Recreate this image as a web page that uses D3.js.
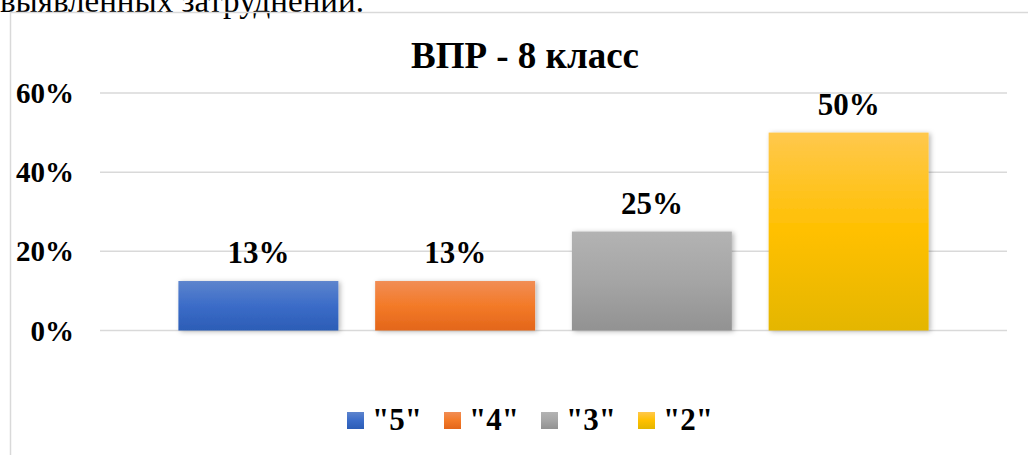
<!DOCTYPE html>
<html>
<head>
<meta charset="utf-8">
<script src="https://cdn.jsdelivr.net/npm/d3@7"></script>
<style>
  body { margin: 0; background: #fff; }
  svg { display: block; }
</style>
</head>
<body>
<svg></svg>
<script>
let categories = ['"5"', '"4"', '"3"', '"2"'];
let values = [0.125, 0.125, 0.25, 0.5];
let labels = ["13%", "13%", "25%", "50%"];
let ticks = [0, 0.2, 0.4, 0.6];
let gradients = [
  ["#5d84cd", "#3b6cc8", "#2c5db6"],
  ["#f18d55", "#f37a28", "#e3661a"],
  ["#b3b3b3", "#a5a5a5", "#929292"],
  ["#ffc84d", "#ffc000", "#e4b600"],
];

let width = 1028;
let height = 455;
let font = "'Liberation Serif', 'Times New Roman', serif";

let svg = d3.select("svg").attr("width", width).attr("height", height);
let defs = svg.append("defs");

gradients.forEach((g, i) => {
  let lg = defs.append("linearGradient")
    .attr("id", `grad${i}`)
    .attr("x1", 0).attr("y1", 0).attr("x2", 0).attr("y2", 1);
  lg.append("stop").attr("offset", "0%").attr("stop-color", g[0]);
  lg.append("stop").attr("offset", "50%").attr("stop-color", g[1]);
  lg.append("stop").attr("offset", "100%").attr("stop-color", g[2]);
});

let shadow = defs.append("filter").attr("id", "shadow")
  .attr("x", "-20%").attr("y", "-20%").attr("width", "140%").attr("height", "140%");
shadow.append("feDropShadow")
  .attr("dx", 2).attr("dy", 1).attr("stdDeviation", 2.5)
  .attr("flood-color", "#000").attr("flood-opacity", 0.28);

// page text above the chart (cut off, as on the scanned page)
svg.append("text")
  .attr("x", 0).attr("y", 12)
  .style("font-family", font).style("font-size", "33px")
  .text("выявленных затруднений.");

// chart frame
svg.append("path")
  .attr("d", `M10.5,${height} V12.5 H${width + 5}`)
  .style("fill", "none").style("stroke", "#d9d9d9").style("stroke-width", 1.5);

let y = d3.scaleLinear().domain([0, 0.6]).range([330.5, 93]);
let x = d3.scaleBand().domain(categories).range([160, 947])
  .paddingInner(0.187).paddingOuter(0.0935);

// gridlines
svg.append("g")
  .selectAll("line")
  .data(ticks)
  .join("line")
  .attr("x1", 100).attr("x2", 1007)
  .attr("y1", (d) => y(d)).attr("y2", (d) => y(d))
  .style("stroke", "#d9d9d9").style("stroke-width", 1.5);

// y tick labels
svg.append("g")
  .selectAll("text")
  .data(ticks)
  .join("text")
  .attr("x", 74).attr("y", (d) => y(d) + 10)
  .attr("text-anchor", "end")
  .style("font-family", font).style("font-size", "29px").style("font-weight", "bold")
  .text(d3.format(".0%"));

// title
svg.append("text")
  .attr("x", 525).attr("y", 68)
  .attr("text-anchor", "middle")
  .style("font-family", font).style("font-size", "37px").style("font-weight", "bold")
  .text("ВПР - 8 класс");

// bars
svg.append("g")
  .selectAll("rect")
  .data(values)
  .join("rect")
  .attr("x", (d, i) => x(categories[i]))
  .attr("y", (d) => y(d))
  .attr("width", x.bandwidth())
  .attr("height", (d) => y(0) - y(d))
  .attr("fill", (d, i) => `url(#grad${i})`)
  .attr("filter", "url(#shadow)");

// value labels
svg.append("g")
  .selectAll("text")
  .data(values)
  .join("text")
  .attr("x", (d, i) => x(categories[i]) + x.bandwidth() / 2)
  .attr("y", (d) => y(d) - 18)
  .attr("text-anchor", "middle")
  .style("font-family", font).style("font-size", "31px").style("font-weight", "bold")
  .text((d, i) => labels[i]);

// legend
let legend = svg.append("g")
  .selectAll("g")
  .data(categories)
  .join("g")
  .attr("transform", (d, i) => `translate(${347 + i * 97},412)`);

legend.append("rect")
  .attr("width", 17).attr("height", 17)
  .attr("fill", (d, i) => `url(#grad${i})`);

legend.append("text")
  .attr("x", 25).attr("y", 18)
  .style("font-family", font).style("font-size", "31px").style("font-weight", "bold")
  .text((d) => d);
</script>
</body>
</html>
